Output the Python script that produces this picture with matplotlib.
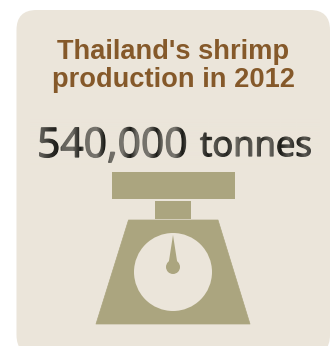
import numpy as np
import matplotlib
matplotlib.use('Agg')
import matplotlib.pyplot as plt
import matplotlib.patheffects as pe
from matplotlib.patches import FancyBboxPatch, Rectangle, Polygon, Circle

title_lines = ["Thailand's shrimp", "production in 2012"]
production = 540000
unit = 'tonnes'

panel_color = '#ebe5da'
title_color = '#85592a'
scale_color = '#aba57f'
number_color = '#1c1c18'

# horizontal shading across the figure text: (x, how much of the panel colour shows through)
shade_x = [36, 42, 50, 58, 62, 72, 80, 84, 96, 104, 110, 122, 130, 136, 148, 156, 162, 174, 182, 188,
           200, 208, 214, 226, 236, 244, 254, 262, 270, 280, 288, 296, 304, 314]
shade_a = [.4, .3, .1, .0, .35, .4, .0, .4, .45, .0, .4, .45, .0, .4, .45, .0, .4, .45, .0, .35,
           .3, .0, .3, .05, .4, .1, .4, .1, .35, .0, .3, .0, .3, .1]

fig = plt.figure(figsize=(3.34, 3.46), dpi=100)
ax = fig.add_axes([0, 0, 1, 1])
ax.set_xlim(0, 334)
ax.set_ylim(346, 0)
ax.axis('off')

# background card
ax.add_patch(FancyBboxPatch((16.5, 10), 313.5, 345, boxstyle='round,pad=0,rounding_size=20',
                            fc=panel_color, ec='none'))

ax.text(173, 59, title_lines[0], family='Liberation Sans', weight='bold', fontsize=19.6,
        color=title_color, ha='center', va='baseline')
ax.text(173, 87, title_lines[1], family='Liberation Sans', weight='bold', fontsize=19.6,
        color=title_color, ha='center', va='baseline')

stroke = [pe.withStroke(linewidth=0.9, foreground=number_color)]
ax.text(37, 157, f'{production:,}', family='Open Sans', fontsize=29.4, color=number_color,
        ha='left', va='baseline', path_effects=stroke)
ax.text(200, 156, unit, family='Open Sans', fontsize=25, color=number_color,
        ha='left', va='baseline', path_effects=stroke)

# lighten the figure text in vertical bands, the card colour hides on itself
xs = np.arange(30, 320)
alpha = np.interp(xs, shade_x, shade_a)
band = np.zeros((1, len(xs), 4))
band[..., :3] = matplotlib.colors.to_rgb(panel_color)
band[..., 3] = alpha
ax.imshow(band, extent=(30, 320, 170, 118), aspect='auto', interpolation='bilinear', zorder=3)
ax.set_xlim(0, 334)
ax.set_ylim(346, 0)

# kitchen scale icon
ax.add_patch(Rectangle((112, 172), 123, 27, fc=scale_color, ec='none', zorder=4))
ax.add_patch(Rectangle((155, 201), 36, 18, fc=scale_color, ec='none', zorder=4))
ax.add_patch(Polygon([(128.5, 220), (218, 220), (250, 324), (96, 324)], closed=True,
                     fc=scale_color, ec=scale_color, lw=0.5, joinstyle='round', zorder=4))
ax.add_patch(Circle((173, 272), 39, fc=panel_color, ec='none', zorder=5))
ax.add_patch(Polygon([(173, 235), (177.5, 264), (168.5, 264)], closed=True, fc=scale_color, ec='none', zorder=6))
ax.add_patch(Circle((173, 267), 7, fc=scale_color, ec='none', zorder=6))

fig.savefig('out.png', dpi=100)
